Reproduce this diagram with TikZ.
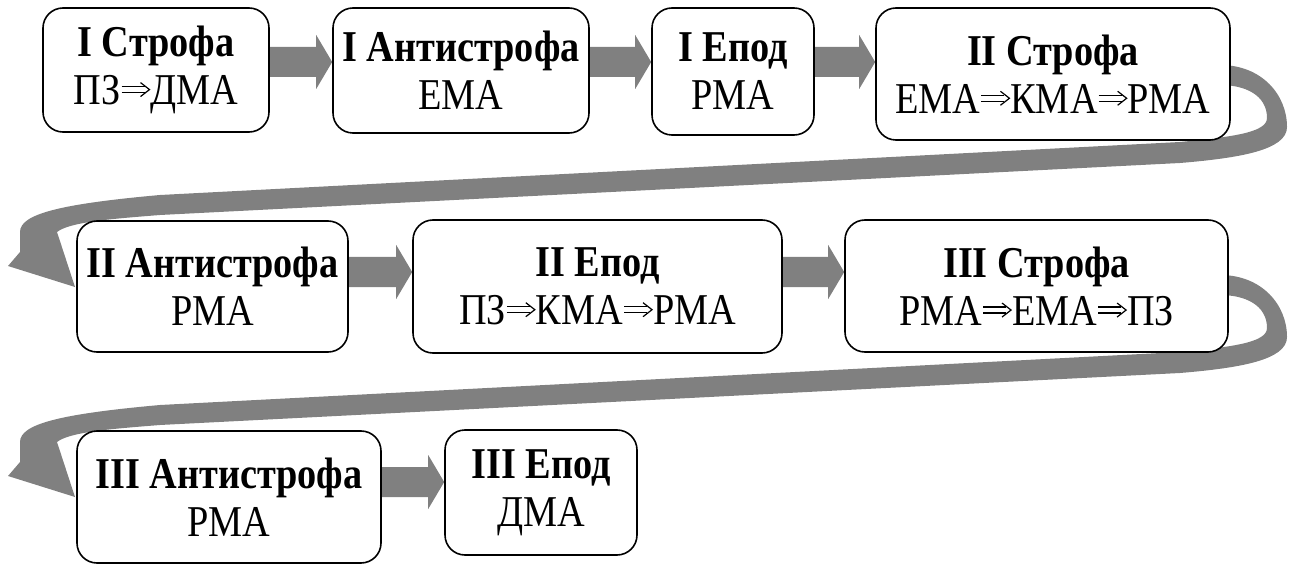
\documentclass[tikz,border=0pt]{standalone}
\usepackage{fontspec}
\setmainfont{Liberation Serif}[FakeStretch=0.87]
\usetikzlibrary{calc,backgrounds}

\definecolor{arrowgray}{RGB}{128,128,128}

% thin double arrow between stage names
\newcommand\imp{\tikz[x=1pt,y=1pt,baseline=0pt]{%
  \useasboundingbox (0,0) rectangle (30,21);
  \draw[black,solid,sharp corners,line width=1.2pt,line cap=butt]
    (1,12) -- (24,12) (1,18) -- (24,18);
  \draw[black,solid,sharp corners,line width=1.2pt,line join=miter]
    (20,22) -- (29,15) -- (20,8);}}

% straight block arrow from node #1 to node #2 at the height of coordinate #3
\newcommand\blockarrow[3]{%
  \fill[arrowgray] ($(#1.east|-#3)+(-2,-15)$) -- ($(#2.west|-#3)+(-16,-15)$)
    -- ($(#2.west|-#3)+(-16,-27)$) -- (#2.west|-#3)
    -- ($(#2.west|-#3)+(-16,27)$) -- ($(#2.west|-#3)+(-16,15)$)
    -- ($(#1.east|-#3)+(-2,15)$) -- cycle;}

% wide return band from the end of one row to the start of the next
\newcommand\returnband{%
  \fill[arrowgray] (1220,65) .. controls (1262,65) and (1287,95) .. (1287,127)
    .. controls (1287,150) and (1240,158) .. (1180,163)
    -- (160,215)
    .. controls (110,219) and (70,222) .. (57,232)
    -- (75,287) -- (8,266) -- (20,252) -- (20,232)
    .. controls (20,214) and (60,204) .. (160,195)
    -- (1180,142)
    .. controls (1230,137) and (1267,133) .. (1267,118)
    .. controls (1267,95) and (1245,85) .. (1220,85) -- cycle;}

\tikzset{
  stage/.style={draw=black, line width=1.6pt, rounded corners=20pt,
    fill=white, align=center, inner sep=0pt,
    font=\fontsize{44}{48}\selectfont},
}

\begin{document}
\begin{tikzpicture}[x=1pt, y=-1pt]
\useasboundingbox (0,0) rectangle (1296,564);

% first row
\node[stage, minimum width=226pt, minimum height=124pt] (A) at (156,70)
  {\textbf{I Строфа}\\ПЗ\imp ДМА};
\node[stage, minimum width=256pt, minimum height=125pt] (B) at (461,70.5)
  {\textbf{I Антистрофа}\\ЕМА};
\node[stage, minimum width=162pt, minimum height=127pt] (C) at (733,71.5)
  {\textbf{I Епод}\\РМА};
\node[stage, minimum width=354pt, minimum height=132pt] (D) at (1053,74)
  {\textbf{II Строфа}\\ЕМА\imp КМА\imp РМА};

% second row
\node[stage, minimum width=271pt, minimum height=131pt] (E) at (212.5,286.5)
  {\textbf{II Антистрофа}\\РМА};
\node[stage, minimum width=369pt, minimum height=133pt] (F) at (597.5,286.5)
  {\textbf{II Епод}\\ПЗ\imp КМА\imp РМА};
\node[stage, minimum width=383pt, minimum height=132pt] (G) at (1036.5,286)
  {\textbf{III Строфа}\\РМА\imp ЕМА\imp ПЗ};

% third row
\node[stage, minimum width=304pt, minimum height=132pt] (H) at (229,497)
  {\textbf{III Антистрофа}\\РМА};
\node[stage, minimum width=192pt, minimum height=125pt] (I) at (541,492.5)
  {\textbf{III Епод}\\ДМА};

\coordinate (r1) at (0,62);
\coordinate (r2) at (0,272);
\coordinate (r3) at (0,482);

\begin{scope}[on background layer]
  \blockarrow{A}{B}{r1}
  \blockarrow{B}{C}{r1}
  \blockarrow{C}{D}{r1}
  \blockarrow{E}{F}{r2}
  \blockarrow{F}{G}{r2}
  \blockarrow{H}{I}{r3}
  \returnband
  \begin{scope}[shift={(0,210)}]
    \returnband
  \end{scope}
\end{scope}
\end{tikzpicture}
\end{document}
